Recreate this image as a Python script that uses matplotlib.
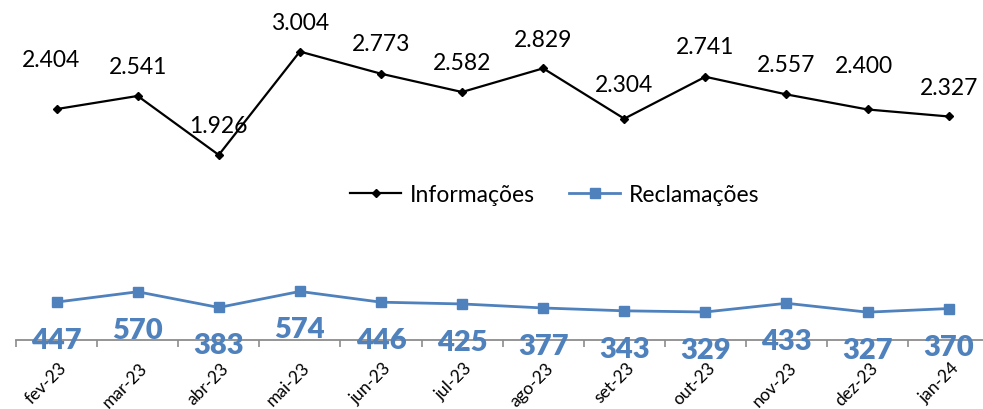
import numpy as np
import matplotlib
matplotlib.use('Agg')
import matplotlib.pyplot as plt
import matplotlib.transforms as mtrans

meses = ['fev-23', 'mar-23', 'abr-23', 'mai-23', 'jun-23', 'jul-23',
         'ago-23', 'set-23', 'out-23', 'nov-23', 'dez-23', 'jan-24']
informacoes = [2404, 2541, 1926, 3004, 2773, 2582, 2829, 2304, 2741, 2557, 2400, 2327]
reclamacoes = [447, 570, 383, 574, 446, 425, 377, 343, 329, 433, 327, 370]

# label offsets (pixels) for the black labels, as placed in the original
dx_inf = [-6, 0, 0, 0, 0, 0, 0, 0, 0, 0, -4, 0]
dy_inf = [50, 29, 29, 29, 30, 30, 29, 34, 30, 30, 44, 29]

def fmt(v):
    return f'{v:,}'.replace(',', '.')

plt.rcParams['font.family'] = ['Lato', 'DejaVu Sans']

azul = '#4F81BD'
x = np.arange(len(meses))

fig = plt.figure(figsize=(9.83, 4.10), dpi=100)
ax = fig.add_axes([16/983, 69.4/410, 967/983, 335.6/410])
ax2 = ax.twinx()

l1, = ax.plot(x, informacoes, color='black', lw=1.6, marker='D', ms=4.5,
              label='Informações', zorder=3)
l2, = ax2.plot(x, reclamacoes, color=azul, lw=2.0, marker='s', ms=7,
               label='Reclamações', zorder=3)

ax.set_ylim(0, 3500)
ax2.set_ylim(0, 4000)
ax.set_xlim(-0.5, -0.5 + 967/81.1)

for i, v in enumerate(informacoes):
    ax.annotate(fmt(v), (x[i], v), xytext=(dx_inf[i], dy_inf[i]),
                textcoords='offset pixels', ha='center', va='center',
                fontsize=16.5, color='black')
for i, v in enumerate(reclamacoes):
    ax2.annotate(fmt(v), (x[i], v), xytext=(0, -38),
                 textcoords='offset pixels', ha='center', va='center',
                 fontsize=21, fontweight='heavy', color=azul, zorder=5)

for a in (ax, ax2):
    for s in ['top', 'right', 'left']:
        a.spines[s].set_visible(False)
    a.set_yticks([])
ax2.spines['bottom'].set_visible(False)
ax.spines['bottom'].set_color('#8c8c8c')
ax.spines['bottom'].set_linewidth(1.3)

ax.set_xticks(x)
ax.set_xticklabels(meses, rotation=45, ha='right', va='top',
                   rotation_mode='anchor', fontsize=12.5)
ax.set_xticks(np.arange(-0.5, 11.5, 1), minor=True)
ax.tick_params(axis='x', which='major', length=0, pad=14)
ax.tick_params(axis='x', which='minor', length=5, width=1.2, color='#8c8c8c')
off = mtrans.ScaledTranslation(2/100, 0, fig.dpi_scale_trans)
for lab in ax.get_xticklabels():
    lab.set_transform(lab.get_transform() + off)

fig.legend(handles=[l1, l2], loc='center', bbox_to_anchor=(555/983, 1 - 196/410),
           ncol=2, frameon=False, fontsize=16.5, handlelength=2.2,
           handletextpad=0.4, columnspacing=1.5)

plt.savefig('out.png', dpi=100)
